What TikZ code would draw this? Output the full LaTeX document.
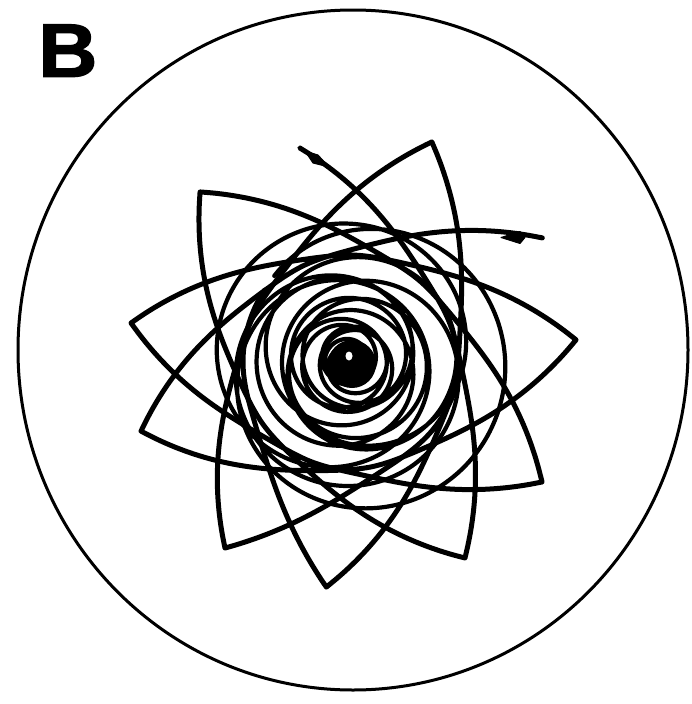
\documentclass[tikz,border=0pt]{standalone}
\usepackage{fontspec}
\setmainfont{Liberation Sans}
\newfontfamily\heavyfont[FakeBold=1.6]{Liberation Sans}
\usetikzlibrary{arrows.meta}
\def\cx{350}
\def\cy{362}
\def\Rmin{107}
\begin{document}
\begin{tikzpicture}[x=1pt,y=-1pt,
  trace/.style={line width=5pt, line join=round, line cap=round},
  weave/.style={line width=4.2pt, line join=round, line cap=round},
  rim/.style={line width=3pt},
  headfill/.style={fill=black, draw=black, line width=1pt, line join=round},
  declare function={
    lobeR(\t,\p,\q)=\Rmin+(\p+(\q-\p)*\t-\Rmin)*(abs(2*\t-1)+0.0001)^2.7;
    rho(\v)=12+110*((1-\v/16.5)+0.0001)^1.15;
  }]
\useasboundingbox (0,0) rectangle (691,704);
% outer dish
\draw[rim] (353,350) ellipse [x radius=335, y radius=340];
% panel label
\node[anchor=south west, inner sep=0pt, font=\fontsize{76}{76}\selectfont\heavyfont\bfseries, xscale=1.08] (lbl) at (38,77) {B};
% free ends
\coordinate (Tend) at (300,148);
\coordinate (Rend) at (543,238);
% outer star, open piece from the top end to the right end
\draw[trace] (Tend)
  \foreach \aa/\ra/\ab/\rb in {103.2/219.8/-59.6/227.2, 300.4/227.2/131.4/226.7, 131.4/226.7/-32.0/226.4, 328.0/226.4/169.9/222.4, 169.9/222.4/5.6/227.1, 5.6/227.1/-161.7/220.1, 198.3/220.1/32.7/229.4}
  { -- plot[domain=0:1, samples=70, variable=\s, smooth]
      ({\cx+lobeR(\s,\ra,\rb)*cos(\aa+(\ab-\aa)*\s)}, {\cy-lobeR(\s,\ra,\rb)*sin(\aa+(\ab-\aa)*\s)}) };
% the other three star points
\draw[trace] ({\cx+lobeR(0.3,107,224.1)*cos(401.7-165.6*0.3)}, {\cy-lobeR(0.3,107,224.1)*sin(401.7-165.6*0.3)})
  \foreach \aa/\ra/\ab/\rb/\sa/\sb in {401.7/107/236.1/224.1/0.3/1, 236.1/224.1/69.6/234.8/0/1, 69.6/234.8/-96.0/226.3/0/1, 264.0/226.3/98.4/107/0/0.75}
  { -- plot[domain=\sa:\sb, samples=70, variable=\s, smooth]
      ({\cx+lobeR(\s,\ra,\rb)*cos(\aa+(\ab-\aa)*\s)}, {\cy-lobeR(\s,\ra,\rb)*sin(\aa+(\ab-\aa)*\s)}) };
% inner woven rings, shrinking into the core
\draw[weave] plot[domain=0:16.2, samples=1700, variable=\v, smooth]
  ({\cx+0.32*rho(\v)*cos(40-137*\v)+rho(\v)*cos(150-360*\v)},
   {\cy-0.32*rho(\v)*sin(40-137*\v)-rho(\v)*sin(150-360*\v)});
% dense core
\fill (352,364) circle [radius=24];
\fill[white] (349,356) ellipse [x radius=3.5, y radius=4.5];
% arrow heads near the free ends (spindle shaped)
\coordinate (T1) at (305,151);
\coordinate (T2) at (318,155);
\coordinate (T3) at (329,167);
\coordinate (T4) at (313,163);
\fill[headfill] (T1) -- (T2) -- (T3) -- (T4) -- cycle;
\coordinate (R1) at (501,237.5);
\coordinate (R2) at (520,231.5);
\coordinate (R3) at (525,237.5);
\coordinate (R4) at (520,243.5);
\fill[headfill] (R1) -- (R2) -- (R3) -- (R4) -- cycle;
\end{tikzpicture}
\end{document}
